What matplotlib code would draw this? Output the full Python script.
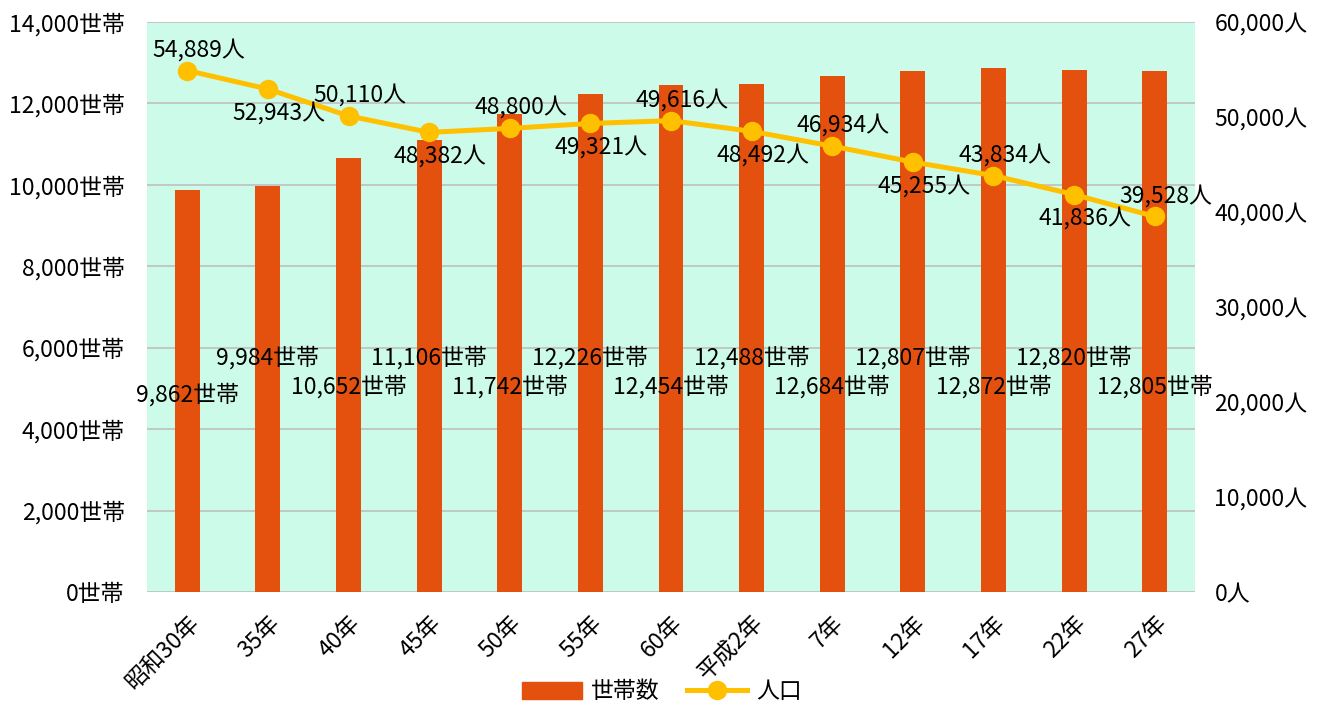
import numpy as np
import matplotlib.pyplot as plt
from matplotlib.lines import Line2D
from matplotlib.patches import Patch

plt.rcParams['font.family'] = ['Noto Sans CJK JP', 'DejaVu Sans']

# data
years = ['昭和30年', '35年', '40年', '45年', '50年', '55年', '60年',
         '平成2年', '7年', '12年', '17年', '22年', '27年']
households = [9862, 9984, 10652, 11106, 11742, 12226, 12454,
              12488, 12684, 12807, 12872, 12820, 12805]
population = [54889, 52943, 50110, 48382, 48800, 49321, 49616,
              48492, 46934, 45255, 43834, 41836, 39528]

bar_color = '#E4500E'
line_color = '#FFC000'
bg_color = '#CCFBEA'
fs = 16.5

fig = plt.figure(figsize=(13.24, 7.08), dpi=100)
ax = fig.add_axes([147 / 1324, 1 - 592 / 708, 1048 / 1324, 570 / 708])
ax2 = ax.twinx()
ax.set_zorder(ax2.get_zorder() - 1)
ax2.patch.set_visible(False)
ax.set_facecolor(bg_color)

x = np.arange(len(years))
ax.bar(x, households, width=0.31, color=bar_color, zorder=2)
ax.set_xlim(-0.5, len(years) - 0.5)
ax.set_ylim(0, 14000)
ax.set_yticks(np.arange(0, 14001, 2000))
ax.set_yticklabels([f'{v:,}世帯' for v in range(0, 14001, 2000)], fontsize=fs)
ax.grid(axis='y', color='#BFBFBF', linewidth=1.2, zorder=1)
ax.set_xticks(x)
ax.set_xticklabels(years, rotation=45, ha='right', rotation_mode='anchor', fontsize=fs)
ax.tick_params(axis='y', length=0, pad=16)
ax.tick_params(axis='x', length=0, pad=14)
for s in ax.spines.values():
    s.set_visible(False)

ax2.plot(x, population, color=line_color, linewidth=3.6, marker='o',
         markersize=13, zorder=3)
ax2.set_ylim(0, 60000)
ax2.set_yticks(np.arange(0, 60001, 10000))
ax2.set_yticklabels([f'{v:,}人' for v in range(0, 60001, 10000)], fontsize=fs)
ax2.tick_params(length=0, pad=14)
for s in ax2.spines.values():
    s.set_visible(False)

# bar labels, alternating low/high
for i, v in enumerate(households):
    ly = 5050 if i % 2 == 0 else 5750
    if i == 0:
        ly = 4850
    ax.text(x[i], ly, f'{v:,}世帯', ha='center', va='center', fontsize=fs, zorder=4)

# line labels, alternating above/below
for i, v in enumerate(population):
    dy = 15 if i % 2 == 0 else -17
    ax2.annotate(f'{v:,}人', (x[i], v), xytext=(8, dy), textcoords='offset points',
                 ha='center', va='center', fontsize=fs, zorder=5)

handles = [Patch(color=bar_color),
           Line2D([], [], color=line_color, linewidth=3.6, marker='o', markersize=13)]
fig.legend(handles, ['世帯数', '人口'], loc='center', bbox_to_anchor=(0.5, 1 - 692 / 708),
           ncol=2, frameon=False, fontsize=fs, handlelength=2.6, handletextpad=0.4,
           columnspacing=1.2)

fig.savefig('out.png', dpi=100)
